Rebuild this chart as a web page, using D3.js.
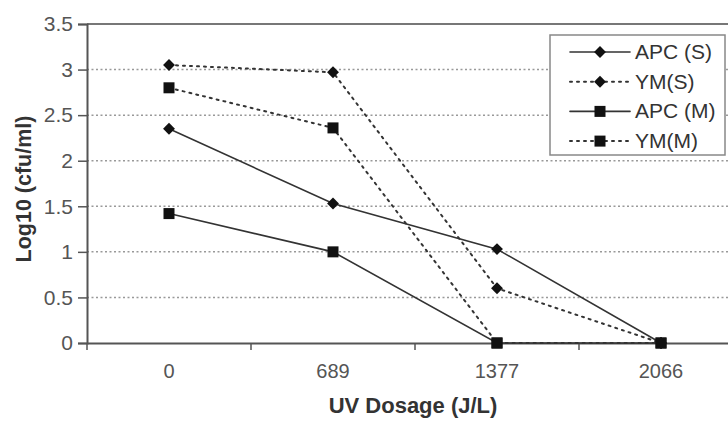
<!DOCTYPE html>
<html lang="en">
<head>
<meta charset="UTF-8">
<title>UV Dosage chart</title>
<script src="https://cdn.jsdelivr.net/npm/d3@7"></script>
<style>
    body { margin: 0; background: #fff; }
    text { font-family: "Liberation Sans", Arial, sans-serif; fill: #444; }
</style>
</head>
<body>
<div id="chart"></div>
<script>
    const dosages = ['0', '689', '1377', '2066']
    const yTicks = [0, 0.5, 1, 1.5, 2, 2.5, 3, 3.5]
    const apcS = [2.35, 1.53, 1.03, 0]
    const ymS = [3.05, 2.97, 0.6, 0]
    const apcM = [1.42, 1.0, 0, 0]
    const ymM = [2.8, 2.36, 0, 0]

    const series = [
        {name: 'APC (S)', values: apcS, dotted: false, marker: 'diamond'},
        {name: 'YM(S)', values: ymS, dotted: true, marker: 'diamond'},
        {name: 'APC (M)', values: apcM, dotted: false, marker: 'square'},
        {name: 'YM(M)', values: ymM, dotted: true, marker: 'square'}
    ]

    const width = 728, height = 424
    const margin = {top: 24, left: 87, bottom: 81}
    const svg = d3.select('#chart').append('svg').attr('width', width).attr('height', height)

    const x = d3.scaleBand().domain(dosages).range([margin.left, 743])
    const y = d3.scaleLinear().domain([0, 3.5]).range([height - margin.bottom, margin.top])

    // grid lines
    svg.append('g').selectAll('line')
        .data(yTicks.filter(d => d > 0 && d < 3.5))
        .join('line')
        .attr('x1', margin.left).attr('x2', width)
        .attr('y1', d => y(d)).attr('y2', d => y(d))
        .attr('stroke', '#999').attr('stroke-width', 1.5)
        .attr('stroke-dasharray', '2,2.5')

    // top border
    svg.append('line')
        .attr('x1', margin.left).attr('x2', width)
        .attr('y1', y(3.5)).attr('y2', y(3.5))
        .attr('stroke', '#777').attr('stroke-width', 2)

    // y axis
    const yAxis = svg.append('g')
        .attr('transform', `translate(${margin.left},0)`)
        .call(d3.axisLeft(y).tickValues(yTicks).tickSize(9).tickPadding(5).tickFormat(d3.format('')))
    yAxis.select('.domain').attr('stroke', '#555').attr('stroke-width', 2)
    yAxis.selectAll('.tick line').attr('stroke', '#555').attr('stroke-width', 1.5)
    yAxis.selectAll('.tick text').attr('font-size', 21).style('fill', '#555')

    // x axis
    const xAxis = svg.append('g')
        .attr('transform', `translate(0,${y(0)})`)
        .call(d3.axisBottom(x).tickSize(0).tickPadding(21))
    xAxis.select('.domain').attr('stroke', '#555').attr('stroke-width', 2)
    xAxis.selectAll('.tick text').attr('font-size', 20).style('fill', '#555')
    // ticks between categories
    const edges = dosages.map(d => x(d)).concat([x.range()[1]])
    svg.append('g').selectAll('line')
        .data(edges)
        .join('line')
        .attr('x1', d => d).attr('x2', d => d)
        .attr('y1', y(0)).attr('y2', y(0) + 7)
        .attr('stroke', '#555').attr('stroke-width', 1.5)

    // axis titles
    svg.append('text')
        .attr('x', 413).attr('y', 413)
        .attr('text-anchor', 'middle')
        .attr('font-size', 22).attr('font-weight', 'bold')
        .style('fill', '#333')
        .text('UV Dosage (J/L)')

    svg.append('text')
        .attr('transform', 'translate(31,189) rotate(-90)')
        .attr('text-anchor', 'middle')
        .attr('font-size', 21.5).attr('font-weight', 'bold')
        .style('fill', '#333')
        .text('Log10 (cfu/ml)')

    const cx = d => x(d) + x.bandwidth() / 2
    const line = d3.line().x(d => cx(d.cat)).y(d => y(d.v))

    const drawMarker = (g, type, px, py) => {
        if (type === 'diamond') {
            g.append('path')
                .attr('d', d3.symbol(d3.symbolDiamond2, 90)())
                .attr('transform', `translate(${px},${py})`)
                .attr('fill', '#111')
        } else {
            g.append('rect')
                .attr('x', px - 5.5).attr('y', py - 5.5)
                .attr('width', 11).attr('height', 11)
                .attr('fill', '#111')
        }
    }

    const plot = svg.append('g')
    series.forEach(s => {
        const pts = s.values.map((v, i) => ({cat: dosages[i], v: v}))
        plot.append('path')
            .datum(pts)
            .attr('d', line)
            .attr('fill', 'none')
            .attr('stroke', '#333')
            .attr('stroke-width', s.dotted ? 2 : 1.6)
            .attr('stroke-dasharray', s.dotted ? '2,5' : null)
            .attr('stroke-linecap', 'round')
        pts.forEach(p => drawMarker(plot, s.marker, cx(p.cat), y(p.v)))
    })

    // legend
    const legend = svg.append('g')
    legend.append('rect')
        .attr('x', 550).attr('y', 35)
        .attr('width', 175).attr('height', 120)
        .attr('fill', '#fff').attr('stroke', '#888').attr('stroke-width', 1.5)
    series.forEach((s, i) => {
        const ly = 52 + i * 29.7
        legend.append('line')
            .attr('x1', 570).attr('x2', 630)
            .attr('y1', ly).attr('y2', ly)
            .attr('stroke', '#333')
            .attr('stroke-width', s.dotted ? 2 : 1.6)
            .attr('stroke-dasharray', s.dotted ? '2,5' : null)
            .attr('stroke-linecap', 'round')
        drawMarker(legend, s.marker, 600, ly)
        legend.append('text')
            .attr('x', 635).attr('y', ly + 7)
            .attr('font-size', 21)
            .style('fill', '#333')
            .text(s.name)
    })
</script>
</body>
</html>
